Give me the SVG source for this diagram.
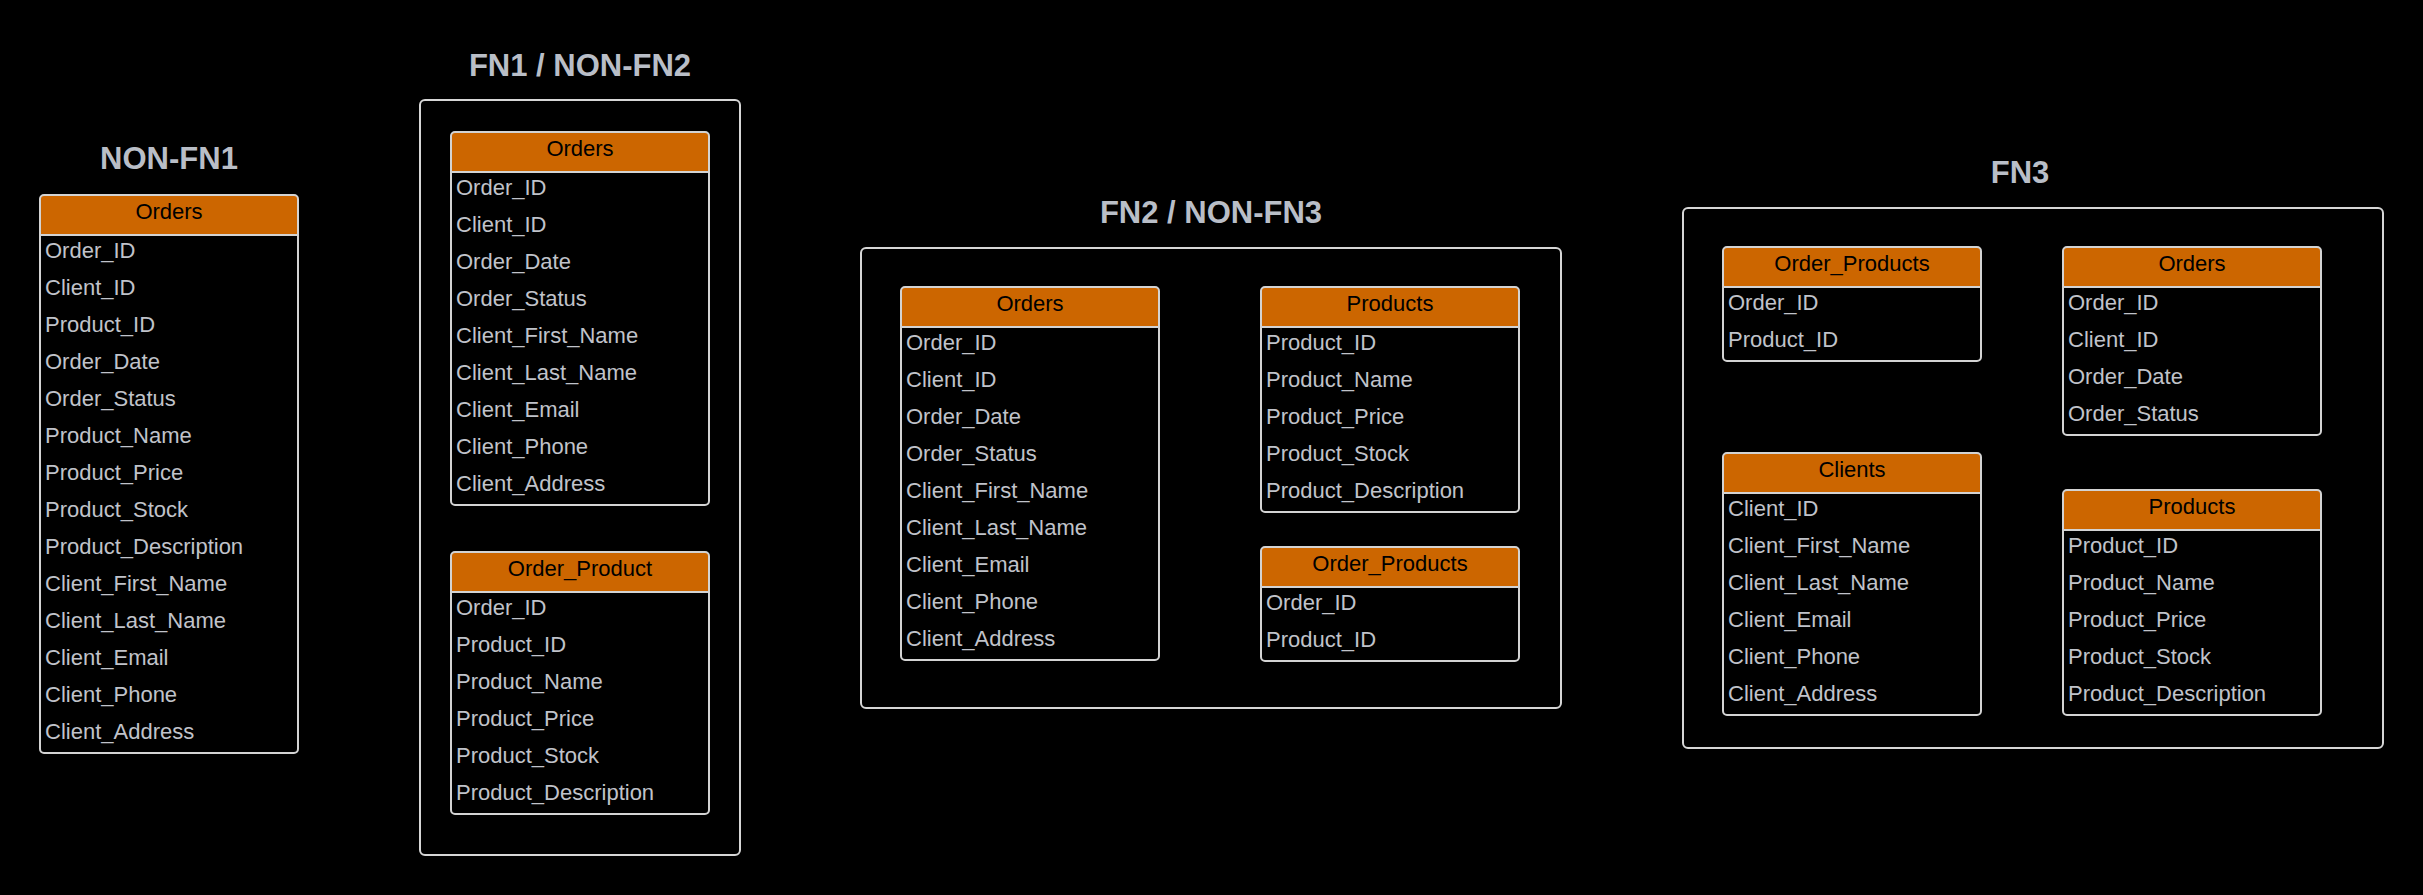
<svg xmlns="http://www.w3.org/2000/svg" width="2423" height="895" viewBox="0 0 2423 895">
<style>
.bg{fill:#000}
.title{font-family:"Liberation Sans",Arial,sans-serif;font-weight:bold;font-size:31px;fill:#B9BEC7;text-anchor:middle}
.cont{fill:none;stroke:#D6D6D6;stroke-width:2}
.tbl{fill:none;stroke:#D3D3D3;stroke-width:2}
.hdr{fill:#CC6600}
.sep{stroke:#D3D3D3;stroke-width:2}
.htxt{font-family:"Liberation Sans",Arial,sans-serif;font-size:22px;fill:#000;text-anchor:middle}
.row{font-family:"Liberation Sans",Arial,sans-serif;font-size:22px;fill:#C0C3CA}
</style>
<rect class="bg" x="0" y="0" width="2423" height="895"/>

<g id="connectors"></g>

<!-- NON-FN1 -->
<g id="nonfn1">
<text class="title" x="169" y="169">NON-FN1</text>
<g id="nonfn1-orders">
<rect class="hdr" x="40" y="195" width="258" height="40" rx="4"/>
<rect class="hdr" x="40" y="215" width="258" height="20"/>
<line class="sep" x1="40" y1="235" x2="298" y2="235"/>
<rect class="tbl" x="40" y="195" width="258" height="558" rx="4"/>
<text class="htxt" x="169" y="219">Orders</text>
<text class="row" x="45" y="258">Order_ID</text>
<text class="row" x="45" y="295">Client_ID</text>
<text class="row" x="45" y="332">Product_ID</text>
<text class="row" x="45" y="369">Order_Date</text>
<text class="row" x="45" y="406">Order_Status</text>
<text class="row" x="45" y="443">Product_Name</text>
<text class="row" x="45" y="480">Product_Price</text>
<text class="row" x="45" y="517">Product_Stock</text>
<text class="row" x="45" y="554">Product_Description</text>
<text class="row" x="45" y="591">Client_First_Name</text>
<text class="row" x="45" y="628">Client_Last_Name</text>
<text class="row" x="45" y="665">Client_Email</text>
<text class="row" x="45" y="702">Client_Phone</text>
<text class="row" x="45" y="739">Client_Address</text>
</g>
</g>

<!-- FN1 / NON-FN2 -->
<g id="fn1">
<text class="title" x="580" y="76">FN1 / NON-FN2</text>
<rect class="cont" x="420" y="100" width="320" height="755" rx="5"/>
<g id="fn1-orders">
<rect class="hdr" x="451" y="132" width="258" height="40" rx="4"/>
<rect class="hdr" x="451" y="152" width="258" height="20"/>
<line class="sep" x1="451" y1="172" x2="709" y2="172"/>
<rect class="tbl" x="451" y="132" width="258" height="373" rx="4"/>
<text class="htxt" x="580" y="156">Orders</text>
<text class="row" x="456" y="195">Order_ID</text>
<text class="row" x="456" y="232">Client_ID</text>
<text class="row" x="456" y="269">Order_Date</text>
<text class="row" x="456" y="306">Order_Status</text>
<text class="row" x="456" y="343">Client_First_Name</text>
<text class="row" x="456" y="380">Client_Last_Name</text>
<text class="row" x="456" y="417">Client_Email</text>
<text class="row" x="456" y="454">Client_Phone</text>
<text class="row" x="456" y="491">Client_Address</text>
</g>
<g id="fn1-order-product">
<rect class="hdr" x="451" y="552" width="258" height="40" rx="4"/>
<rect class="hdr" x="451" y="572" width="258" height="20"/>
<line class="sep" x1="451" y1="592" x2="709" y2="592"/>
<rect class="tbl" x="451" y="552" width="258" height="262" rx="4"/>
<text class="htxt" x="580" y="576">Order_Product</text>
<text class="row" x="456" y="615">Order_ID</text>
<text class="row" x="456" y="652">Product_ID</text>
<text class="row" x="456" y="689">Product_Name</text>
<text class="row" x="456" y="726">Product_Price</text>
<text class="row" x="456" y="763">Product_Stock</text>
<text class="row" x="456" y="800">Product_Description</text>
</g>
</g>

<!-- FN2 / NON-FN3 -->
<g id="fn2">
<text class="title" x="1211" y="223">FN2 / NON-FN3</text>
<rect class="cont" x="861" y="248" width="700" height="460" rx="5"/>
<g id="fn2-orders">
<rect class="hdr" x="901" y="287" width="258" height="40" rx="4"/>
<rect class="hdr" x="901" y="307" width="258" height="20"/>
<line class="sep" x1="901" y1="327" x2="1159" y2="327"/>
<rect class="tbl" x="901" y="287" width="258" height="373" rx="4"/>
<text class="htxt" x="1030" y="311">Orders</text>
<text class="row" x="906" y="350">Order_ID</text>
<text class="row" x="906" y="387">Client_ID</text>
<text class="row" x="906" y="424">Order_Date</text>
<text class="row" x="906" y="461">Order_Status</text>
<text class="row" x="906" y="498">Client_First_Name</text>
<text class="row" x="906" y="535">Client_Last_Name</text>
<text class="row" x="906" y="572">Client_Email</text>
<text class="row" x="906" y="609">Client_Phone</text>
<text class="row" x="906" y="646">Client_Address</text>
</g>
<g id="fn2-products">
<rect class="hdr" x="1261" y="287" width="258" height="40" rx="4"/>
<rect class="hdr" x="1261" y="307" width="258" height="20"/>
<line class="sep" x1="1261" y1="327" x2="1519" y2="327"/>
<rect class="tbl" x="1261" y="287" width="258" height="225" rx="4"/>
<text class="htxt" x="1390" y="311">Products</text>
<text class="row" x="1266" y="350">Product_ID</text>
<text class="row" x="1266" y="387">Product_Name</text>
<text class="row" x="1266" y="424">Product_Price</text>
<text class="row" x="1266" y="461">Product_Stock</text>
<text class="row" x="1266" y="498">Product_Description</text>
</g>
<g id="fn2-order-products">
<rect class="hdr" x="1261" y="547" width="258" height="40" rx="4"/>
<rect class="hdr" x="1261" y="567" width="258" height="20"/>
<line class="sep" x1="1261" y1="587" x2="1519" y2="587"/>
<rect class="tbl" x="1261" y="547" width="258" height="114" rx="4"/>
<text class="htxt" x="1390" y="571">Order_Products</text>
<text class="row" x="1266" y="610">Order_ID</text>
<text class="row" x="1266" y="647">Product_ID</text>
</g>
</g>

<!-- FN3 -->
<g id="fn3">
<text class="title" x="2020" y="183">FN3</text>
<rect class="cont" x="1683" y="208" width="700" height="540" rx="5"/>
<g id="fn3-order-products">
<rect class="hdr" x="1723" y="247" width="258" height="40" rx="4"/>
<rect class="hdr" x="1723" y="267" width="258" height="20"/>
<line class="sep" x1="1723" y1="287" x2="1981" y2="287"/>
<rect class="tbl" x="1723" y="247" width="258" height="114" rx="4"/>
<text class="htxt" x="1852" y="271">Order_Products</text>
<text class="row" x="1728" y="310">Order_ID</text>
<text class="row" x="1728" y="347">Product_ID</text>
</g>
<g id="fn3-orders">
<rect class="hdr" x="2063" y="247" width="258" height="40" rx="4"/>
<rect class="hdr" x="2063" y="267" width="258" height="20"/>
<line class="sep" x1="2063" y1="287" x2="2321" y2="287"/>
<rect class="tbl" x="2063" y="247" width="258" height="188" rx="4"/>
<text class="htxt" x="2192" y="271">Orders</text>
<text class="row" x="2068" y="310">Order_ID</text>
<text class="row" x="2068" y="347">Client_ID</text>
<text class="row" x="2068" y="384">Order_Date</text>
<text class="row" x="2068" y="421">Order_Status</text>
</g>
<g id="fn3-clients">
<rect class="hdr" x="1723" y="453" width="258" height="40" rx="4"/>
<rect class="hdr" x="1723" y="473" width="258" height="20"/>
<line class="sep" x1="1723" y1="493" x2="1981" y2="493"/>
<rect class="tbl" x="1723" y="453" width="258" height="262" rx="4"/>
<text class="htxt" x="1852" y="477">Clients</text>
<text class="row" x="1728" y="516">Client_ID</text>
<text class="row" x="1728" y="553">Client_First_Name</text>
<text class="row" x="1728" y="590">Client_Last_Name</text>
<text class="row" x="1728" y="627">Client_Email</text>
<text class="row" x="1728" y="664">Client_Phone</text>
<text class="row" x="1728" y="701">Client_Address</text>
</g>
<g id="fn3-products">
<rect class="hdr" x="2063" y="490" width="258" height="40" rx="4"/>
<rect class="hdr" x="2063" y="510" width="258" height="20"/>
<line class="sep" x1="2063" y1="530" x2="2321" y2="530"/>
<rect class="tbl" x="2063" y="490" width="258" height="225" rx="4"/>
<text class="htxt" x="2192" y="514">Products</text>
<text class="row" x="2068" y="553">Product_ID</text>
<text class="row" x="2068" y="590">Product_Name</text>
<text class="row" x="2068" y="627">Product_Price</text>
<text class="row" x="2068" y="664">Product_Stock</text>
<text class="row" x="2068" y="701">Product_Description</text>
</g>
</g>
</svg>
